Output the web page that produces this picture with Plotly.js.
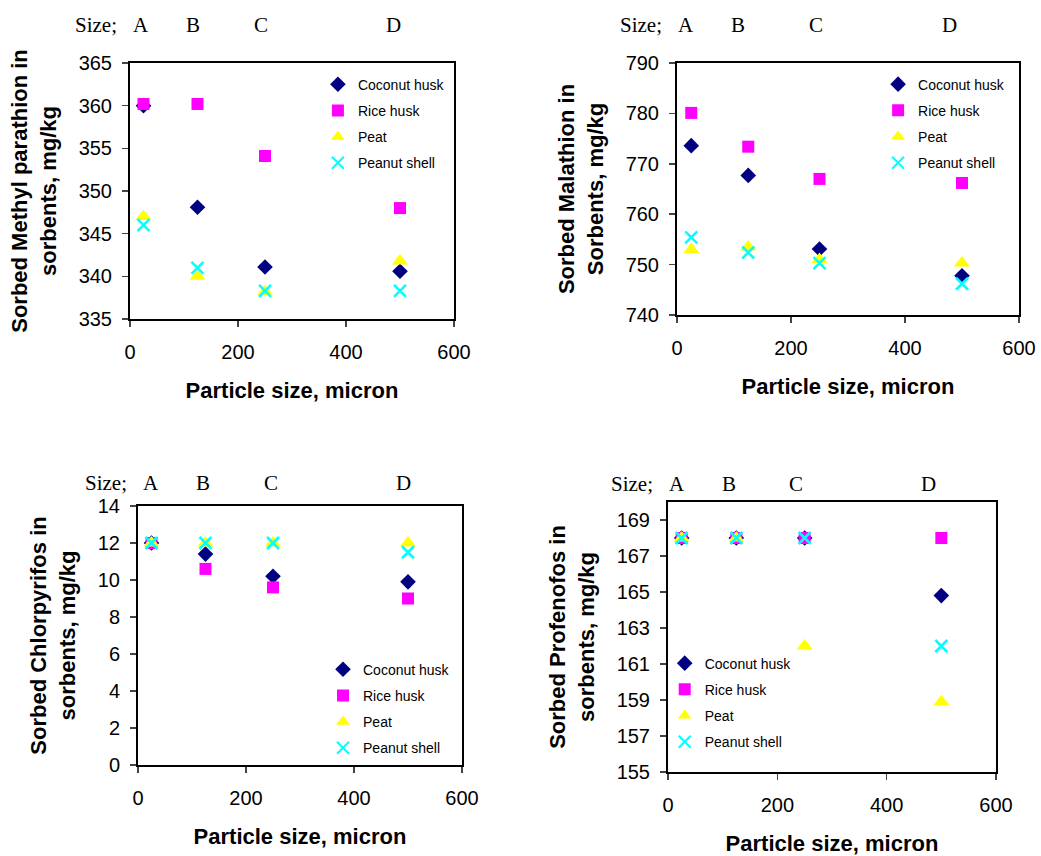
<!DOCTYPE html>
<html>
<head>
<meta charset="utf-8">
<script src="https://cdn.plot.ly/plotly-3.0.1.min.js"></script>
<style>
  html, body { margin: 0; padding: 0; background: #ffffff; }
  body { width: 1041px; height: 856px; position: relative; overflow: hidden; }
  .chart { position: absolute; }
</style>
</head>
<body>
<div id="c1" class="chart" style="left:0px;top:0px;width:520px;height:428px;"></div>
<div id="c2" class="chart" style="left:520px;top:0px;width:521px;height:428px;"></div>
<div id="c3" class="chart" style="left:0px;top:428px;width:520px;height:428px;"></div>
<div id="c4" class="chart" style="left:520px;top:428px;width:521px;height:428px;"></div>
<script>
// ---------- data ----------
const particleSize = [25, 125, 250, 500];
const seriesNames = ['Coconut husk', 'Rice husk', 'Peat', 'Peanut shell'];
const sizeLetters = ['A', 'B', 'C', 'D'];
const xTicks = [0, 200, 400, 600];

// Methyl parathion
const mpCoconut = [360.0, 348.1, 341.1, 340.6];
const mpRice    = [360.2, 360.2, 354.1, 348.0];
const mpPeat    = [347.0, 340.0, 338.2, 341.8];
const mpPeanut  = [346.0, 341.0, 338.3, 338.3];

// Malathion
const maCoconut = [773.6, 767.7, 753.1, 747.8];
const maRice    = [780.1, 773.4, 767.0, 766.2];
const maPeat    = [753.0, 753.5, 751.0, 750.3];
const maPeanut  = [755.4, 752.4, 750.3, 746.2];

// Chlorpyrifos
const chCoconut = [12.0, 11.4, 10.2, 9.9];
const chRice    = [12.0, 10.6, 9.6, 9.0];
const chPeat    = [12.0, 12.0, 12.0, 12.0];
const chPeanut  = [12.0, 12.0, 12.0, 11.5];

// Profenofos
const prCoconut = [168, 168, 168, 164.8];
const prRice    = [168, 168, 168, 168];
const prPeat    = [168, 168, 162, 158.9];
const prPeanut  = [168, 168, 168, 162.0];

// ---------- styles ----------
const markerStyles = [
  {symbol: 'diamond', size: 12, color: '#000080'},
  {symbol: 'square', size: 12, color: '#FF00FF'},
  {symbol: 'triangle-up', size: 14, color: '#FFFF00'},
  {symbol: 'x-thin-open', size: 12, color: '#00FFFF', line: {color: '#00FFFF', width: 2.5}}
];

const SANS = '"Liberation Sans", Arial, sans-serif';
const SERIF = '"Liberation Serif", "Times New Roman", serif';

function makeChart(id, ys, cfg) {
  const traces = ys.map((y, i) => ({
    type: 'scatter', mode: 'markers',
    x: particleSize, y: y, name: seriesNames[i],
    legendgroup: 'g' + i,
    marker: markerStyles[i],
    cliponaxis: false
  }));

  const ann = [];
  ann.push({
    text: 'Size;', xref: 'paper', yref: 'paper', x: 0, y: 1,
    xshift: cfg.sizeX, yshift: cfg.sizeY, xanchor: 'center', yanchor: 'middle',
    showarrow: false, font: {family: SERIF, size: 21, color: '#000'}
  });
  sizeLetters.forEach((t, i) => ann.push({
    text: t, xref: 'paper', yref: 'paper', x: 0, y: 1,
    xshift: cfg.letterX[i], yshift: cfg.sizeY, xanchor: 'center', yanchor: 'middle',
    showarrow: false, font: {family: SERIF, size: 21, color: '#000'}
  }));

  const layout = {
    width: cfg.w, height: 428,
    margin: cfg.margin,
    paper_bgcolor: 'rgba(0,0,0,0)', plot_bgcolor: 'rgba(0,0,0,0)',
    font: {family: SANS, color: '#000'},
    showlegend: true,
    legend: {
      x: cfg.legend[0], y: cfg.legend[1], xanchor: 'left', yanchor: 'top',
      bgcolor: 'rgba(0,0,0,0)', borderwidth: 0,
      font: {family: SANS, size: 14, color: '#000'},
      tracegroupgap: 5, itemsizing: 'constant'
    },
    xaxis: {
      range: [0, 600], tickvals: xTicks, ticktext: xTicks.map(String),
      showgrid: false, zeroline: false,
      showline: true, linecolor: '#000', linewidth: 2, mirror: true,
      ticks: 'outside', ticklen: 6, tickwidth: 1.5, tickcolor: '#444',
      ticklabelstandoff: 8,
      tickfont: {family: SANS, size: 20, color: '#000'},
      title: {text: 'Particle size, micron', standoff: 21,
              font: {family: SANS, size: 22, color: '#000', weight: 'bold'}},
      automargin: false, fixedrange: true
    },
    yaxis: {
      range: cfg.yRange, tick0: cfg.tick0, dtick: cfg.dtick,
      showgrid: false, zeroline: false,
      showline: true, linecolor: '#000', linewidth: 2, mirror: true,
      ticks: 'outside', ticklen: 6, tickwidth: 1.5, tickcolor: '#444',
      ticklabelstandoff: 6,
      tickfont: {family: SANS, size: 20, color: '#000'},
      title: {text: cfg.yTitle, standoff: 16,
              font: {family: SANS, size: 22, color: '#000', weight: 'bold'}},
      automargin: false, fixedrange: true
    },
    annotations: ann
  };
  Plotly.newPlot(id, traces, layout, {staticPlot: true, displayModeBar: false});
}

makeChart('c1', [mpCoconut, mpRice, mpPeat, mpPeanut], {
  w: 520, margin: {l: 130, r: 66, t: 63, b: 109},
  yRange: [335, 365], tick0: 335, dtick: 5,
  yTitle: 'Sorbed Methyl parathion in<br>sorbents, mg/kg',
  legend: [0.58, 0.978],
  sizeX: -34, letterX: [11, 63, 131, 263], sizeY: 38
});
makeChart('c2', [maCoconut, maRice, maPeat, maPeanut], {
  w: 521, margin: {l: 157, r: 22, t: 63, b: 113},
  yRange: [740, 790], tick0: 740, dtick: 10,
  yTitle: 'Sorbed Malathion in<br>Sorbents, mg/kg',
  legend: [0.588, 0.978],
  sizeX: -36, letterX: [9, 61, 139, 272], sizeY: 38
});
makeChart('c3', [chCoconut, chRice, chPeat, chPeanut], {
  w: 520, margin: {l: 138, r: 58, t: 78, b: 91},
  yRange: [0, 14], tick0: 0, dtick: 2,
  yTitle: 'Sorbed Chlorpyrifos in<br>sorbents, mg/kg',
  legend: [0.571, 0.43],
  sizeX: -32, letterX: [13, 65, 133, 265], sizeY: 23
});
makeChart('c4', [prCoconut, prRice, prPeat, prPeanut], {
  w: 521, margin: {l: 148, r: 45, t: 74, b: 84},
  yRange: [155, 170], tick0: 155, dtick: 2,
  yTitle: 'Sorbed Profenofos in<br>sorbents, mg/kg',
  legend: [-0.01, 0.461],
  sizeX: -36, letterX: [9, 61, 128, 260], sizeY: 18
});
</script>
</body>
</html>
